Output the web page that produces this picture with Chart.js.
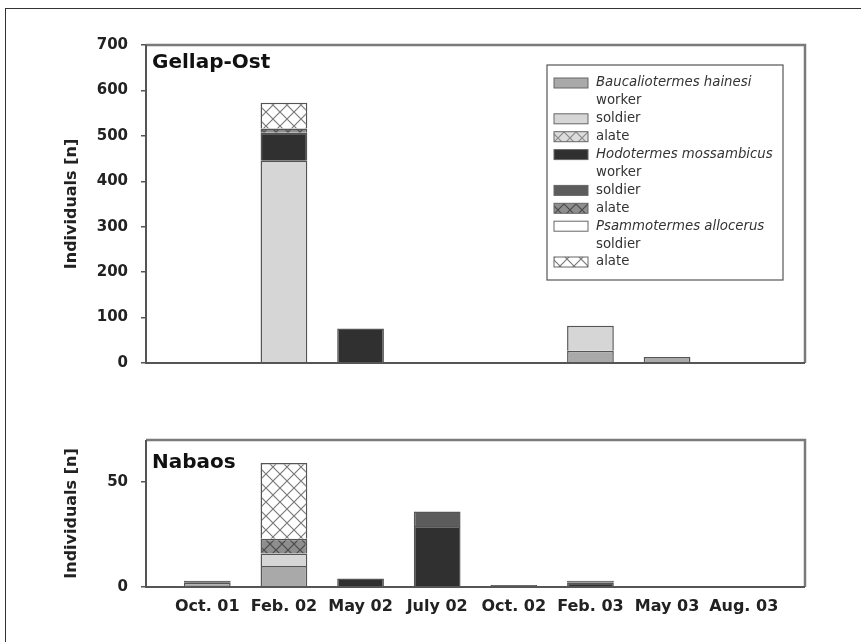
<!DOCTYPE html>
<html>
<head>
<meta charset="utf-8">
<script src="https://cdn.jsdelivr.net/npm/chart.js@4/dist/chart.umd.min.js"></script>
<style>
  html, body { margin: 0; padding: 0; background: #fff; }
  #page { position: relative; width: 861px; height: 642px; overflow: hidden; }
  #frame { position: absolute; left: 5px; top: 8px; width: 900px; height: 700px;
           border-left: 1.5px solid #333; border-top: 1.5px solid #333; }
  canvas { position: absolute; left: 0; }
  #gellap { top: 0; }
  #nabaos { top: 418px; }
</style>
</head>
<body>
<div id="page">
  <div id="frame"></div>
  <canvas id="gellap" width="861" height="430"></canvas>
  <canvas id="nabaos" width="861" height="224"></canvas>
</div>
<script>
// Sampling dates (x axis)
const months = ['Oct. 01', 'Feb. 02', 'May 02', 'July 02', 'Oct. 02', 'Feb. 03', 'May 03', 'Aug. 03'];

// Gellap-Ost, individuals per caste
const gBaucWorker  = [0, 0, 0, 0, 0, 27, 13, 0];
const gBaucSoldier = [0, 445, 0, 0, 0, 55, 0, 0];
const gBaucAlate   = [0, 0, 0, 0, 0, 0, 0, 0];
const gHodoWorker  = [2, 62, 76, 0, 0, 0, 0, 0];
const gHodoSoldier = [0, 0, 0, 0, 0, 0, 0, 0];
const gHodoAlate   = [0, 9, 0, 0, 0, 0, 0, 0];
const gPsamSoldier = [0, 0, 0, 0, 0, 0, 0, 0];
const gPsamAlate   = [0, 57, 0, 0, 0, 0, 0, 0];

// Nabaos, individuals per caste
const nBaucWorker  = [2, 10, 0, 0, 0, 0, 0, 0];
const nBaucSoldier = [0, 6, 0, 0, 0, 0, 0, 0];
const nBaucAlate   = [0, 0, 0, 0, 0, 0, 0, 0];
const nHodoWorker  = [1, 0, 4, 29, 1, 2, 0, 0];
const nHodoSoldier = [0, 0, 0, 7, 0, 1, 0, 0];
const nHodoAlate   = [0, 7, 0, 0, 0, 0, 0, 0];
const nPsamSoldier = [0, 0, 0, 0, 0, 0, 0, 0];
const nPsamAlate   = [0, 36, 0, 0, 0, 0, 0, 0];

const gTicks = [0, 100, 200, 300, 400, 500, 600, 700];
const nTicks = [0, 50];

const speciesNames = ['Baucaliotermes hainesi', 'Hodotermes mossambicus', 'Psammotermes allocerus'];
const casteLabels  = ['worker', 'soldier', 'alate', 'worker', 'soldier', 'alate', 'soldier', 'alate'];
const casteSpecies = [0, 0, 0, 1, 1, 1, 2, 2];

// cross-hatched fill for the alate stacks
function hatch(bg, line, size) {
  const c = document.createElement('canvas');
  c.width = c.height = size;
  const x = c.getContext('2d');
  x.fillStyle = bg;
  x.fillRect(0, 0, size, size);
  x.strokeStyle = line;
  x.lineWidth = 1.2;
  x.beginPath();
  x.moveTo(0, 0); x.lineTo(size, size);
  x.moveTo(size, 0); x.lineTo(0, size);
  x.stroke();
  return x.createPattern(c, 'repeat');
}

const fills = [
  '#a9a9a9',
  '#d6d6d6',
  hatch('#dcdcdc', '#8a8a8a', 12),
  '#303030',
  '#5c5c5c',
  hatch('#8e8e8e', '#4a4a4a', 12),
  '#ffffff',
  hatch('#ffffff', '#7a7a7a', 14)
];

const FONT = 'DejaVu Sans';

function buildDatasets(series) {
  return series.map((vals, i) => ({
    label: casteLabels[i],
    data: vals.map((v, k) => ({ x: k, y: v || null })),
    backgroundColor: fills[i],
    borderColor: '#555',
    borderWidth: 1.5,
    categoryPercentage: 1,
    barPercentage: 0.61
  }));
}

function buildScales(yMax, yTicks, showX, titlePad) {
  return {
    x: {
      type: 'linear', min: -0.8, max: 7.8, stacked: true, display: showX, offset: false,
      afterBuildTicks: s => { s.ticks = months.map((m, i) => ({ value: i })); },
      afterFit: s => { s.height = 55; },
      grid: { display: false, drawTicks: false, offset: false },
      border: { display: false },
      ticks: {
        callback: v => months[v], autoSkip: false, maxRotation: 0,
        font: { family: FONT, weight: 'bold', size: 16 }, color: '#222', padding: 10
      }
    },
    y: {
      stacked: true, min: 0, max: yMax,
      afterBuildTicks: s => { s.ticks = yTicks.map(v => ({ value: v })); },
      afterFit: s => { s.width = 146; },
      grid: { drawOnChartArea: false, drawTicks: true, tickLength: 5, color: '#555', lineWidth: 1.5 },
      border: { display: false },
      ticks: { font: { family: FONT, weight: 'bold', size: 15 }, color: '#222', padding: 13 },
      title: {
        display: true, text: 'Individuals [n]', color: '#222',
        font: { family: FONT, weight: 'bold', size: 16 },
        padding: { top: titlePad, bottom: 0 }
      }
    }
  };
}

// plot box: dark axes on left/bottom, lighter top and right edges
const framePlugin = {
  id: 'frame',
  afterDatasetsDraw(chart) {
    const { ctx, chartArea: a } = chart;
    ctx.save();
    ctx.strokeStyle = '#7a7a7a';
    ctx.lineWidth = 2.5;
    ctx.beginPath();
    ctx.moveTo(a.left, a.top); ctx.lineTo(a.right, a.top); ctx.lineTo(a.right, a.bottom);
    ctx.stroke();
    ctx.strokeStyle = '#555';
    ctx.lineWidth = 2;
    ctx.beginPath();
    ctx.moveTo(a.left, a.top); ctx.lineTo(a.left, a.bottom); ctx.lineTo(a.right, a.bottom);
    ctx.stroke();
    ctx.restore();
  }
};

// site name in the upper left corner of the plot
const sitePlugin = {
  id: 'site',
  afterDraw(chart, args, opts) {
    const { ctx, chartArea: a } = chart;
    ctx.save();
    ctx.font = 'bold 20px "' + FONT + '"';
    ctx.fillStyle = '#111';
    ctx.textBaseline = 'middle';
    ctx.fillText(opts.text, a.left + 6, a.top + opts.dy);
    ctx.restore();
  }
};

// boxed legend, species name in italics with its first caste on the next line
const casteLegend = {
  id: 'casteLegend',
  afterDraw(chart) {
    const ctx = chart.ctx;
    const bx = 547, by = 65, bw = 236, bh = 215;
    const rowH = 17.9;
    ctx.save();
    ctx.fillStyle = '#fff';
    ctx.fillRect(bx, by, bw, bh);
    ctx.strokeStyle = '#555';
    ctx.lineWidth = 1.2;
    ctx.strokeRect(bx, by, bw, bh);
    ctx.textBaseline = 'middle';
    let y = by + 18;
    const icon = (i, yc) => {
      ctx.fillStyle = fills[i];
      ctx.fillRect(554, yc - 5, 34, 10);
      ctx.strokeStyle = '#666';
      ctx.lineWidth = 1;
      ctx.strokeRect(554, yc - 5, 34, 10);
    };
    casteLabels.forEach((lab, i) => {
      icon(i, y);
      ctx.fillStyle = '#333';
      if (i === 0 || casteSpecies[i] !== casteSpecies[i - 1]) {
        ctx.font = 'italic 13.3px "' + FONT + '"';
        ctx.fillText(speciesNames[casteSpecies[i]], 596, y);
        y += rowH;
      }
      ctx.font = '13.3px "' + FONT + '"';
      ctx.fillText(lab, 596, y);
      y += rowH;
    });
    ctx.restore();
  }
};

const common = {
  responsive: false,
  animation: false,
  events: []
};

new Chart(document.getElementById('gellap'), {
  type: 'bar',
  data: {
    datasets: buildDatasets([gBaucWorker, gBaucSoldier, gBaucAlate, gHodoWorker,
                             gHodoSoldier, gHodoAlate, gPsamSoldier, gPsamAlate])
  },
  options: Object.assign({}, common, {
    layout: { padding: { top: 45, right: 56, bottom: 12, left: 0 } },
    scales: buildScales(700, gTicks, false, 62),
    plugins: { legend: { display: false }, tooltip: { enabled: false }, site: { text: 'Gellap-Ost', dy: 18 } }
  }),
  plugins: [framePlugin, sitePlugin, casteLegend]
});

new Chart(document.getElementById('nabaos'), {
  type: 'bar',
  data: {
    datasets: buildDatasets([nBaucWorker, nBaucSoldier, nBaucAlate, nHodoWorker,
                             nHodoSoldier, nHodoAlate, nPsamSoldier, nPsamAlate])
  },
  options: Object.assign({}, common, {
    layout: { padding: { top: 10, right: 56, bottom: 0, left: 0 } },
    scales: buildScales(70, nTicks, true, 62),
    plugins: { legend: { display: false }, tooltip: { enabled: false }, site: { text: 'Nabaos', dy: 23 } }
  }),
  plugins: [framePlugin, sitePlugin]
});
</script>
</body>
</html>
